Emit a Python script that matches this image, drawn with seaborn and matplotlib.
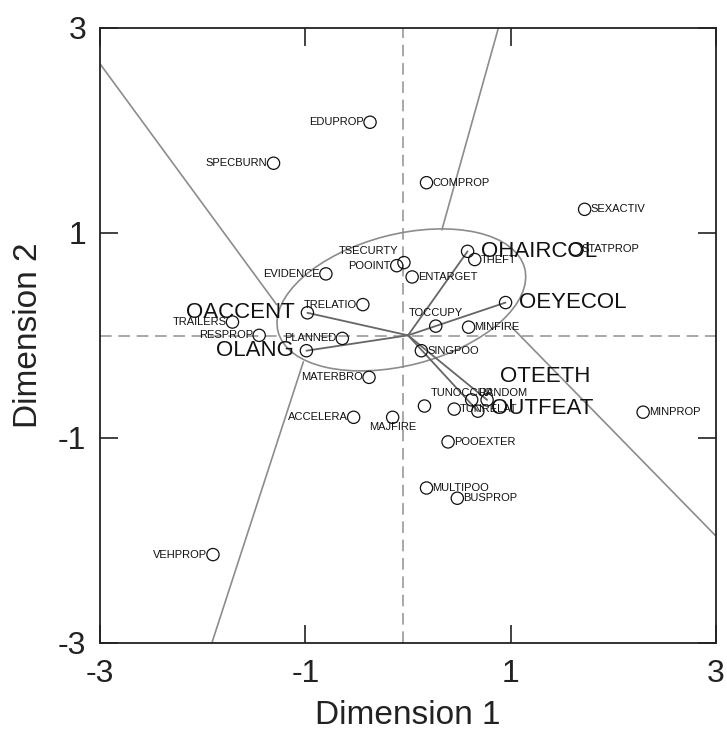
import matplotlib
matplotlib.use('Agg')
import matplotlib.pyplot as plt
from matplotlib.patches import Ellipse
import seaborn as sns
import pandas as pd

# object points (dimension 1, dimension 2)
nombres = ['EDUPROP', 'SPECBURN', 'COMPROP', 'SEXACTIV', 'STATPROP', 'TSECURTY',
           'POOINT', 'EVIDENCE', 'ENTARGET', 'THEFT', 'TRELATIO', 'TRAILERS',
           'RESPROP', 'PLANNED', 'TOCCUPY', 'MINFIRE', 'SINGPOO', 'MATERBRO',
           'ACCELERA', 'MAJFIRE', 'TUNOCCUP', 'RANDOM', 'TUNRELAT', 'POOEXTER',
           'MINPROP', 'MULTIPOO', 'BUSPROP', 'VEHPROP']
dim1 = [-0.37, -1.31, 0.18, 1.72, 1.63, -0.04,
        -0.11, -0.80, 0.04, 0.65, -0.44, -1.71,
        -1.45, -0.64, 0.27, 0.59, 0.13, -0.38,
        -0.53, -0.15, 0.16, 0.62, 0.45, 0.39,
        2.29, 0.18, 0.48, -1.90]
dim2 = [2.08, 1.68, 1.49, 1.23, 0.84, 0.71,
        0.68, 0.60, 0.57, 0.74, 0.30, 0.13,
        0.00, -0.03, 0.09, 0.08, -0.15, -0.41,
        -0.80, -0.80, -0.69, -0.63, -0.72, -1.04,
        -0.75, -1.49, -1.59, -2.14]

# variables (vectors from the origin)
variables = ['OACCENT', 'OLANG', 'OHAIRCOL', 'OEYECOL', 'OTEETH', 'OUTFEAT']
var_d1 = [-0.98, -0.99, 0.58, 0.95, 0.77, 0.68]
var_d2 = [0.22, -0.15, 0.82, 0.32, -0.63, -0.74]

# boundary lines (start, end)
lim_x1 = [-3.0, 0.88, -1.91, 3.0]
lim_y1 = [2.65, 3.0, -3.0, -1.96]
lim_x2 = [-1.28, 0.33, -1.02, 1.01]
lim_y2 = [0.30, 1.03, -0.26, 0.08]

# ellipse
elipse_centro = (-0.065, 0.346)
elipse_ancho = 2.48
elipse_alto = 1.28
elipse_angulo = 14.5

ticks = [-3, -1, 1, 3]

# label placement overrides, in points (dx, dy, ha)
px = 0.72
colocacion = {
    'TSECURTY': (-6 * px, 12 * px, 'right'),
    'MAJFIRE': (0, -10 * px, 'center'),
    'TOCCUPY': (0, 13 * px, 'center'),
    'TUNOCCUP': (6 * px, 13 * px, 'left'),
    'RANDOM': (6.7 * px, 6.6 * px, 'left'),
    'OTEETH': (12.7 * px, 23 * px, 'left'),
    'OUTFEAT': (12.7 * px, 2.7 * px, 'left'),
}

sns.set_style('ticks')
plt.rcParams['font.family'] = ['Liberation Sans', 'DejaVu Sans']
plt.rcParams['axes.unicode_minus'] = False

fig = plt.figure(figsize=(7.27, 7.31), dpi=100)
ax = fig.add_axes([0.1376, 0.1208, 0.8473, 0.8409])

ax.axvline(-0.05, color='#9a9a9a', lw=1.2, dashes=(7, 4), zorder=1)
ax.axhline(-0.01, color='#9a9a9a', lw=1.2, dashes=(7, 4), zorder=1)

for xa, ya, xb, yb in zip(lim_x1, lim_y1, lim_x2, lim_y2):
    ax.plot([xa, xb], [ya, yb], color='#8c8c8c', lw=1.2, zorder=2)

ax.add_patch(Ellipse(elipse_centro, elipse_ancho, elipse_alto, angle=elipse_angulo,
                     fill=False, edgecolor='#8c8c8c', lw=1.2, zorder=2))

for xv, yv in zip(var_d1, var_d2):
    ax.plot([0, xv], [0, yv], color='#666666', lw=1.3, zorder=2)

puntos = pd.DataFrame({'Dim1': dim1 + var_d1, 'Dim2': dim2 + var_d2,
                       'nombre': nombres + variables})
sns.scatterplot(data=puntos, x='Dim1', y='Dim2', ax=ax, marker='o', s=78,
                facecolor='none', edgecolor='#111111', linewidth=0.9, zorder=3)

def etiquetar(nombre, xv, yv, grande):
    sep = (13 if grande else 6) * px
    if nombre in colocacion:
        dx, dy, ha = colocacion[nombre]
    elif xv < 0:
        dx, dy, ha = -sep, 0, 'right'
    else:
        dx, dy, ha = sep, 0, 'left'
    ax.annotate(nombre, (xv, yv), xytext=(dx, dy), textcoords='offset points',
                ha=ha, va='center', fontsize=16 if grande else 8,
                color='#111111', zorder=4)

for n, xv, yv in zip(nombres, dim1, dim2):
    etiquetar(n, xv, yv, False)
for n, xv, yv in zip(variables, var_d1, var_d2):
    etiquetar(n, xv, yv, True)

ax.set_xlim(-3, 3)
ax.set_ylim(-3, 3)
ax.set_xticks(ticks)
ax.set_yticks(ticks)
ax.tick_params(direction='in', length=13, width=1.2, colors='#222222',
               top=True, right=True, labelsize=23)
ax.tick_params(axis='x', pad=12)
ax.tick_params(axis='y', pad=10)
for sp in ax.spines.values():
    sp.set_linewidth(1.3)
    sp.set_color('#222222')
ax.set_xlabel('Dimension 1', fontsize=24, labelpad=8, color='#222222')
ax.set_ylabel('Dimension 2', fontsize=24, labelpad=10, color='#222222')

fig.savefig('out.png', dpi=100)
